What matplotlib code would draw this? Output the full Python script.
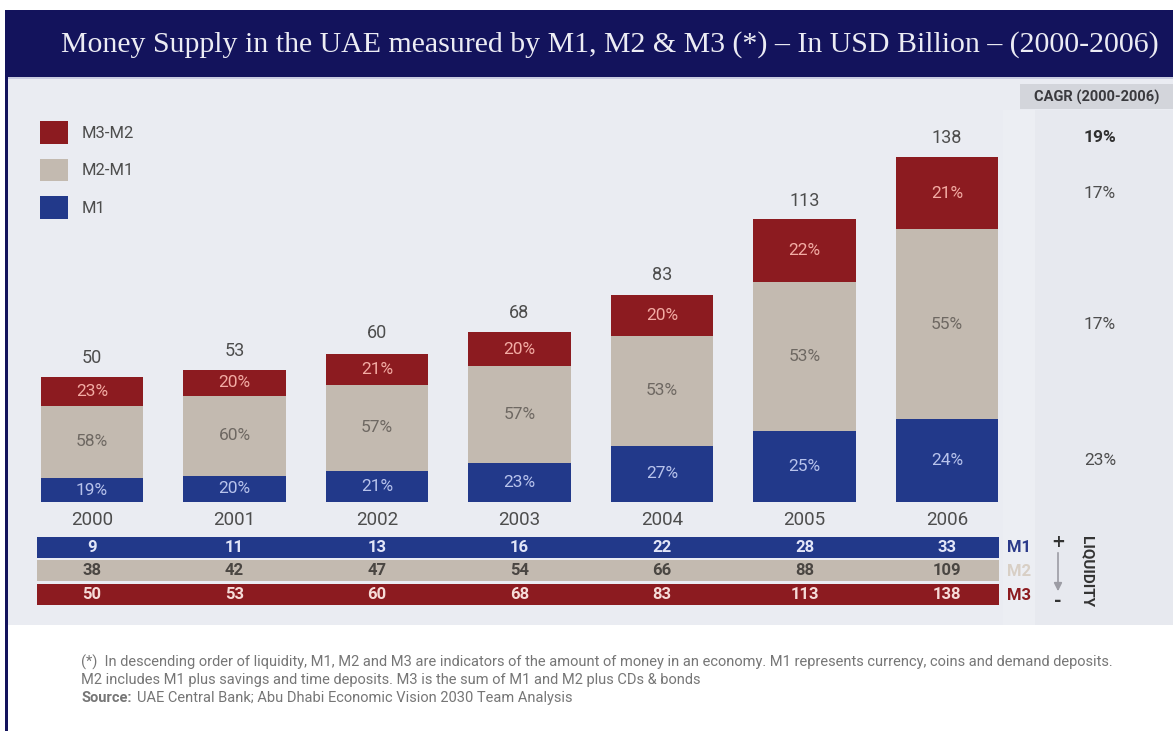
import matplotlib.pyplot as plt
import matplotlib.transforms as mtransforms
from matplotlib.patches import Rectangle, FancyArrowPatch

# Money supply, USD billion
years = ['2000', '2001', '2002', '2003', '2004', '2005', '2006']
m1 = [9, 11, 13, 16, 22, 28, 33]
m2 = [38, 42, 47, 54, 66, 88, 109]
m3 = [50, 53, 60, 68, 83, 113, 138]

# share of M3 (%) for each stacked segment
share_m1 = [19, 20, 21, 23, 27, 25, 24]
share_m2m1 = [58, 60, 57, 57, 53, 53, 55]
share_m3m2 = [23, 20, 21, 20, 20, 22, 21]

# CAGR 2000-2006: M3, M3-M2, M2-M1, M1
cagr = ['19%', '17%', '17%', '23%']

NAVY = '#13135c'
RED = '#8c1b20'
BEIGE = '#c3bab0'
BLUE = '#22398a'
PANEL = '#eaecf2'
GREY = '#4d4d4d'
SANS = ['Roboto', 'DejaVu Sans']

W, H = 1173, 731
fig = plt.figure(figsize=(W / 100, H / 100), dpi=100)
fig.patch.set_facecolor('white')

# full-figure axes in pixel units (y grows downwards) for the frame and table
bg = fig.add_axes([0, 0, 1, 1])
bg.set_xlim(0, W)
bg.set_ylim(H, 0)
bg.axis('off')

bg.add_patch(Rectangle((7, 77), W - 7, 548, color=PANEL, lw=0))
bg.add_patch(Rectangle((1003, 110), 32, 515, color='#eceef3', lw=0))
bg.add_patch(Rectangle((1035, 110), W - 1035, 515, color='#e7e9ef', lw=0))
bg.add_patch(Rectangle((7, 10), W - 7, 67, color=NAVY, lw=0))
bg.add_patch(Rectangle((7, 77), W - 7, 2, color='#c9cce0', lw=0))
bg.add_patch(Rectangle((5, 10), 2.5, H - 10, color=NAVY, lw=0))

bg.text(610, 45, 'Money Supply in the UAE measured by M1, M2 & M3 (*) \u2013 In USD Billion \u2013 (2000-2006)',
        ha='center', va='center', color='#ececf4', fontsize=21.5,
        family=['Liberation Serif', 'DejaVu Serif'])

bg.add_patch(Rectangle((1020, 84), W - 1020, 25, color='#d3d5db', lw=0))
bg.text(1097, 97, 'CAGR (2000-2006)', ha='center', va='center', color='#3a3a3e',
        fontsize=10.5, fontweight='bold', family=SANS)

# bar chart axes: one category per 142.5 px, 2.5 px per billion
ax = fig.add_axes([20.75 / W, (H - 502) / H, 7 * 142.5 / W, 375 / H])
ax.set_xlim(-0.5, 6.5)
ax.set_ylim(0, 150)
ax.axis('off')
ax.patch.set_visible(False)

x = list(range(len(years)))
h_m1 = [t * s / 100 for t, s in zip(m3, share_m1)]
h_m2m1 = [t * s / 100 for t, s in zip(m3, share_m2m1)]
h_m3m2 = [t * s / 100 for t, s in zip(m3, share_m3m2)]
base2 = h_m1
base3 = [a + b for a, b in zip(h_m1, h_m2m1)]

bw = 0.72
b1 = ax.bar(x, h_m1, bw, color=BLUE, label='M1')
b2 = ax.bar(x, h_m2m1, bw, bottom=base2, color=BEIGE, label='M2-M1')
b3 = ax.bar(x, h_m3m2, bw, bottom=base3, color=RED, label='M3-M2')

for i in x:
    ax.text(i, h_m1[i] / 2, f'{share_m1[i]}%', ha='center', va='center',
            color='#b8c3ec', fontsize=12.5, family=SANS)
    ax.text(i, base2[i] + h_m2m1[i] / 2, f'{share_m2m1[i]}%', ha='center', va='center',
            color='#6e6862', fontsize=12.5, family=SANS)
    ax.text(i, base3[i] + h_m3m2[i] / 2, f'{share_m3m2[i]}%', ha='center', va='center',
            color='#f3aca4', fontsize=12.5, family=SANS)
    ax.text(i, m3[i] + 7.6, str(m3[i]), ha='center', va='center',
            color=GREY, fontsize=13, family=SANS)

ax.legend(handles=[b3, b2, b1], loc='upper left', bbox_to_anchor=(40, 121),
          bbox_transform=bg.transData, frameon=False, borderpad=0, borderaxespad=0,
          handlelength=1.7, handleheight=1.7, labelspacing=0.9, handletextpad=0.8,
          prop={'family': SANS, 'size': 12}, labelcolor=GREY)

# CAGR column, level with the 2006 bar
cagr_y = [m3[6] + 7.6, base3[6] + h_m3m2[6] / 2, base2[6] + h_m2m1[6] / 2, h_m1[6] / 2]
col = mtransforms.blended_transform_factory(bg.transData, ax.transData)
for k, (lab, yy) in enumerate(zip(cagr, cagr_y)):
    ax.text(1100, yy, lab, transform=col, ha='center', va='center',
            color='#303030' if k == 0 else GREY, fontsize=12.5,
            fontweight='bold' if k == 0 else 'normal', family=SANS)

# year labels and the value table beneath the bars
row = mtransforms.blended_transform_factory(ax.transData, bg.transData)
for i in x:
    ax.text(i, 520, years[i], transform=row, ha='center', va='center',
            color=GREY, fontsize=13.5, family=SANS)

rows = [(m1, BLUE, '#e2e6f8', 'M1', '#2b3a8a', 537),
        (m2, BEIGE, '#4a4642', 'M2', '#d8cfc5', 560),
        (m3, RED, '#f6dcd8', 'M3', RED, 584)]
for vals, fill, tcol, name, ncol, top in rows:
    bg.add_patch(Rectangle((37, top), 962, 21, color=fill, lw=0))
    for i in x:
        ax.text(i, top + 10.5, str(vals[i]), transform=row, ha='center', va='center',
                color=tcol, fontsize=12, fontweight='bold', family=SANS)
    bg.text(1007, top + 11, name, ha='left', va='center', color=ncol,
            fontsize=12, fontweight='bold', family=SANS)

bg.text(1058, 542, '+', ha='center', va='center', color='#333333',
        fontsize=12, fontweight='bold')
bg.text(1058, 601, '-', ha='center', va='center', color='#333333',
        fontsize=13, fontweight='bold')
bg.add_patch(FancyArrowPatch((1058, 550), (1058, 594), arrowstyle='-|>',
                             mutation_scale=12, color='#9c9ca4', lw=1.2))
bg.text(1087, 572, 'LIQUIDITY', ha='center', va='center', rotation=-90,
        color='#333333', fontsize=11, fontweight='bold', family=SANS)

# footnote
note = '#767676'
bg.text(81, 662, '(*)  In descending order of liquidity, M1, M2 and M3 are indicators of the amount of money '
        'in an economy. M1 represents currency, coins and demand deposits.',
        ha='left', va='center', color=note, fontsize=10.5, family=SANS)
bg.text(81, 680, 'M2 includes M1 plus savings and time deposits. M3 is the sum of M1 and M2 plus CDs & bonds',
        ha='left', va='center', color=note, fontsize=10.5, family=SANS)
src = bg.text(81, 698, 'Source:', ha='left', va='center', color=note, fontsize=10.5,
              fontweight='bold', family=SANS)
bg.annotate('UAE Central Bank; Abu Dhabi Economic Vision 2030 Team Analysis',
            xy=(1, 0.5), xycoords=src, xytext=(4, 0), textcoords='offset points',
            ha='left', va='center', color=note, fontsize=10.5, family=SANS)

fig.savefig('out.png', dpi=100, facecolor=fig.get_facecolor())
